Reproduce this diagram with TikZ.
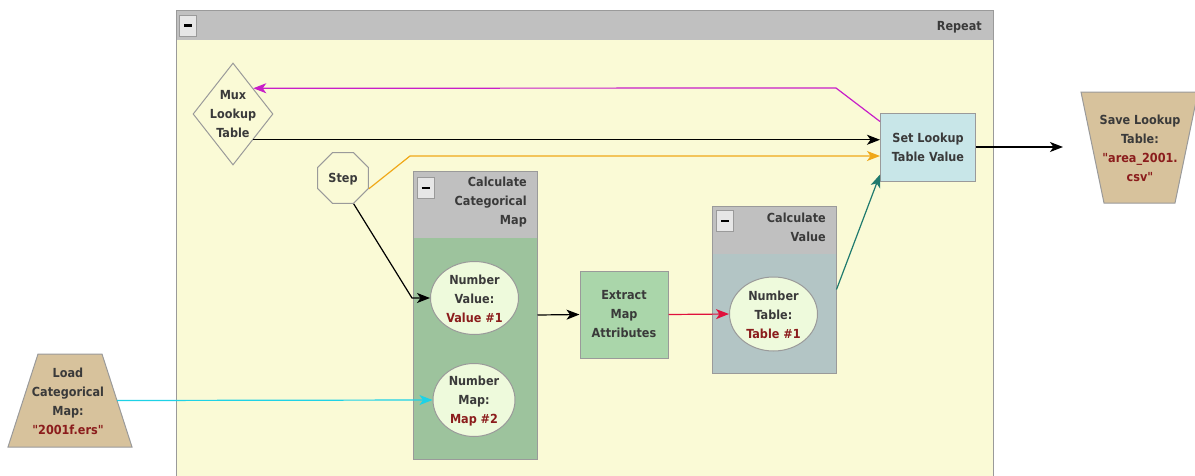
\documentclass[tikz,border=0pt]{standalone}
\usepackage{fontspec}
\setmainfont{DejaVu Sans Condensed}
\usetikzlibrary{shapes.geometric,arrows.meta}

\definecolor{sfondo}{HTML}{FAFAD6}
\definecolor{intestazione}{HTML}{C0C0C0}
\definecolor{bordo}{HTML}{9A9A9A}
\definecolor{grigiochiaro}{HTML}{E6E6E6}
\definecolor{verdescuro}{HTML}{9DC39D}
\definecolor{verdechiaro}{HTML}{AAD6AA}
\definecolor{grigioverde}{HTML}{B3C5C5}
\definecolor{ovalefill}{HTML}{EEFADC}
\definecolor{azzurro}{HTML}{C8E6E8}
\definecolor{sabbia}{HTML}{D7C29C}
\definecolor{scritta}{HTML}{3A3A3A}
\definecolor{valore}{HTML}{8B1C1C}
\definecolor{magenta}{HTML}{C81EC8}
\definecolor{arancio}{HTML}{F0A818}
\definecolor{verdeacqua}{HTML}{1F7A6E}
\definecolor{rosso}{HTML}{E0103C}
\definecolor{ciano}{HTML}{1ED2E6}

\begin{document}
\begin{tikzpicture}[x=1pt, y=-1pt,
	testo/.style={font=\bfseries\fontsize{12.5}{19}\selectfont, text=scritta, align=center, inner sep=0pt},
	scatola/.style={testo, draw=bordo, line width=1pt},
	ovale/.style={ellipse, draw=bordo, line width=1pt, fill=ovalefill, inner sep=0pt},
	bottone/.style={draw=bordo, fill=grigiochiaro, minimum width=17pt, minimum height=21pt, inner sep=0pt},
	freccia/.style={line width=1.2pt, -{Stealth[length=13pt, width=10pt, inset=3.5pt]}}]
	\useasboundingbox (0,0) rectangle (1195,475);
	
	% Cornice Repeat
	\fill[sfondo] (176,10) rectangle (993,480);
	\fill[intestazione] (176,10) rectangle (993,40);
	\draw[bordo, line width=1pt] (176,480) -- (176,10) -- (993,10) -- (993,480);
	\node[bottone] (btnrep) at (188,25.5) {\rule{8pt}{2.5pt}};
	\node[testo, anchor=east] (reptitle) at (982,27) {Repeat};
	
	% Mux e Step
	\node[diamond, draw=bordo, line width=1pt, minimum width=80pt, minimum height=102pt, inner sep=0pt] (mux) at (233,114) {};
	\node[testo] (muxtxt) at (233,114) {Mux\\Lookup\\Table};
	\node[regular polygon, regular polygon sides=8, draw=bordo, line width=1pt, minimum size=55pt, inner sep=0pt] (step) at (343,178) {};
	\node[testo] (steptxt) at (343,179) {Step};
	
	% Calculate Categorical Map
	\fill[verdescuro] (413,171) rectangle (537,459);
	\fill[intestazione] (413,171) rectangle (537,238);
	\node[draw=bordo, line width=1pt, minimum width=124pt, minimum height=288pt, inner sep=0pt] (catmap) at (475,315) {};
	\node[bottone] (btncat) at (425.5,188) {\rule{8pt}{2.5pt}};
	\node[testo, align=right, anchor=north east] (cattitle) at (527,177) {Calculate\\Categorical\\Map};
	\node[ovale, minimum width=88pt, minimum height=73pt] (numval) at (474.5,298) {};
	\node[testo] (numvaltxt) at (474.5,299) {Number\\Value:\\\textcolor{valore}{Value \#1}};
	\node[ovale, minimum width=82pt, minimum height=73pt] (nummap) at (474,400) {};
	\node[testo] (nummaptxt) at (474,401) {Number\\Map:\\\textcolor{valore}{Map \#2}};
	
	% Extract
	\node[scatola, fill=verdechiaro, minimum width=88pt, minimum height=87pt] (extract) at (624,314.5) {Extract\\Map\\Attributes};
	
	% Calculate Value
	\fill[grigioverde] (712,206) rectangle (836,373);
	\fill[intestazione] (712,206) rectangle (836,254);
	\node[draw=bordo, line width=1pt, minimum width=124pt, minimum height=167pt, inner sep=0pt] (calcval) at (774,289.5) {};
	\node[bottone] (btnval) at (725,221) {\rule{8pt}{2.5pt}};
	\node[testo, align=right, anchor=north east] (valtitle) at (826,213) {Calculate\\Value};
	\node[ovale, minimum width=88pt, minimum height=74pt] (numtab) at (773.5,314) {};
	\node[testo] (numtabtxt) at (773.5,315) {Number\\Table:\\\textcolor{valore}{Table \#1}};
	
	% Set Lookup
	\node[scatola, fill=azzurro, minimum width=95pt, minimum height=68pt] (setval) at (928,147) {Set Lookup\\Table Value};
	
	% Load e Save
	\draw[bordo, line width=1pt, fill=sabbia] (38,354) -- (102,354) -- (132,447) -- (8,447) -- cycle;
	\coordinate (loadout) at (117,400.5);
	\node[testo] (load) at (68,401) {Load\\Categorical\\Map:\\\textcolor{valore}{\textquotedbl 2001f.ers\textquotedbl}};
	\draw[bordo, line width=1pt, fill=sabbia] (1081,92) -- (1198,92) -- (1175,203) -- (1104,203) -- cycle;
	\coordinate (savein) at (1063,147);
	\node[testo] (save) at (1140,148) {Save Lookup\\Table:\\\textcolor{valore}{\textquotedbl area\_2001.}\\\textcolor{valore}{csv\textquotedbl}};
	
	% Connessioni
	\coordinate (mgbend) at (836,88);
	\coordinate (orbend) at (410,156);
	\coordinate (stbend) at (412,298);
	\draw[freccia, magenta] ([yshift=-9pt]setval.north west) -- (mgbend) -- (mux.north east);
	\draw[freccia, black] (mux.south east) -- (mux.south east -| setval.west);
	\draw[freccia, arancio] (step.corner 7) -- (orbend) -- (orbend -| setval.west);
	\draw[freccia, black] (step.corner 6) -- (stbend) -- (numval.west);
	\draw[freccia, black] (catmap.east) -- (extract.west);
	\draw[freccia, rosso] (extract.east) -- (numtab.west);
	\draw[freccia, verdeacqua] (calcval.east) -- ([yshift=7pt]setval.south west);
	\draw[freccia, ciano] (loadout) -- (nummap.west);
	\draw[freccia, black] (setval.east) -- (savein);
\end{tikzpicture}
\end{document}
